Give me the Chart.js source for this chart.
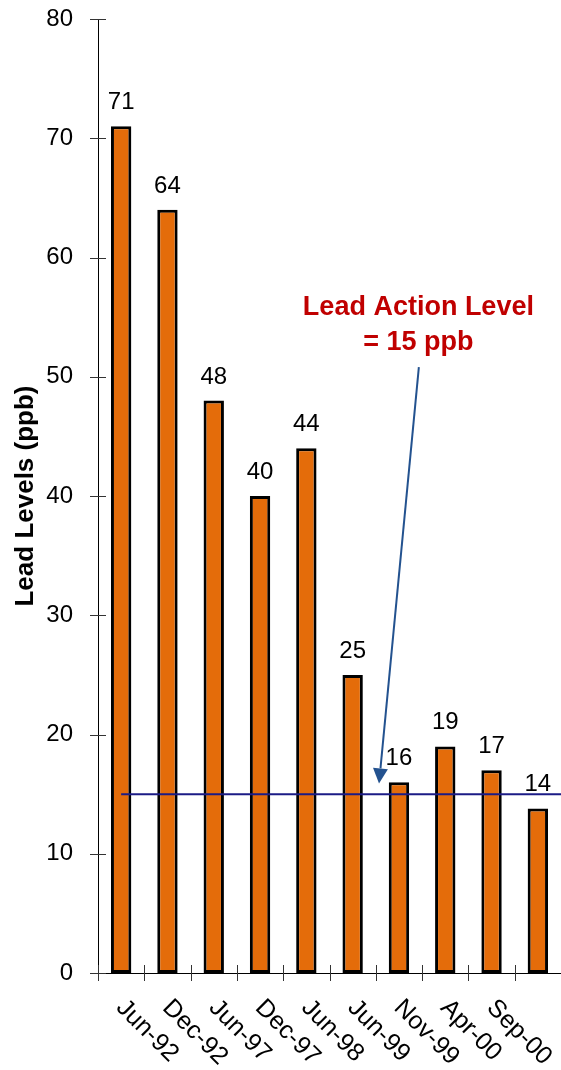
<!DOCTYPE html>
<html>
<head>
<meta charset="utf-8">
<title>Lead Levels</title>
<style>
  html, body { margin: 0; padding: 0; background: #ffffff; }
  #wrap { width: 561px; height: 1070px; position: relative; }
</style>
<script src="https://cdn.jsdelivr.net/npm/chart.js@4.4.0/dist/chart.umd.min.js"></script>
</head>
<body>
<div id="wrap"><canvas id="leadChart" width="561" height="1070"></canvas></div>
<script>
// Sampling rounds and measured lead levels (ppb)
const sampleDates = ['Jun-92', 'Dec-92', 'Jun-97', 'Dec-97', 'Jun-98', 'Jun-99', 'Nov-99', 'Apr-00', 'Sep-00', ''];
const leadPpb = [71, 64, 48, 40, 44, 25, 16, 19, 17, 13.8];
const yTickValues = [0, 10, 20, 30, 40, 50, 60, 70, 80];
const actionLevelPpb = 15;
const noteLines = ['Lead Action Level', '= 15 ppb'];

const FONT = "'Liberation Sans', Arial, Helvetica, sans-serif";
Chart.defaults.font.family = FONT;
Chart.defaults.color = '#000000';

// Tick marks that cross both axes
const crossTicks = {
  id: 'crossTicks',
  afterDraw(chart) {
    const { ctx, scales: { x, y }, chartArea } = chart;
    ctx.save();
    ctx.strokeStyle = '#333333';
    ctx.lineWidth = 1;
    ctx.beginPath();
    y.ticks.forEach((t, i) => {
      const py = Math.round(y.getPixelForTick(i)) + 0.5;
      ctx.moveTo(chartArea.left - 8, py);
      ctx.lineTo(chartArea.left + 8, py);
    });
    for (let i = 0; i <= sampleDates.length; i++) {
      const px = Math.round(x.getPixelForValue(i - 0.5)) + 0.5;
      ctx.moveTo(px, chartArea.bottom - 8);
      ctx.lineTo(px, chartArea.bottom + 8);
    }
    ctx.stroke();
    ctx.restore();
  }
};

// Rotated date labels under the axis
const dateLabels = {
  id: 'dateLabels',
  afterDraw(chart) {
    const { ctx, scales: { x }, chartArea } = chart;
    ctx.save();
    ctx.fillStyle = '#000000';
    ctx.font = '25px ' + FONT;
    ctx.textAlign = 'left';
    ctx.textBaseline = 'middle';
    sampleDates.forEach((d, i) => {
      if (!d) return;
      ctx.save();
      ctx.translate(x.getPixelForValue(i) - 1, chartArea.bottom + 31);
      ctx.rotate(Math.PI / 4);
      ctx.fillText(d, 0, 0);
      ctx.restore();
    });
    ctx.restore();
  }
};

// Value labels above each bar, action level line and its note
const overlay = {
  id: 'overlay',
  afterDatasetsDraw(chart) {
    const { ctx, scales: { x, y }, chartArea } = chart;
    const meta = chart.getDatasetMeta(0);
    ctx.save();

    ctx.fillStyle = '#000000';
    ctx.font = '24px ' + FONT;
    ctx.textAlign = 'center';
    ctx.textBaseline = 'alphabetic';
    meta.data.forEach((bar, i) => {
      ctx.fillText(String(Math.round(leadPpb[i])), bar.x, bar.y - 17);
    });

    // action level line
    const ly = y.getPixelForValue(actionLevelPpb);
    ctx.strokeStyle = '#1b1b86';
    ctx.lineWidth = 2;
    ctx.beginPath();
    ctx.moveTo(x.getPixelForValue(0), ly);
    ctx.lineTo(chartArea.right, ly);
    ctx.stroke();

    // note text
    ctx.fillStyle = '#c00000';
    ctx.font = 'bold 27px ' + FONT;
    ctx.textBaseline = 'middle';
    const nx = x.getPixelForValue(6.42);
    ctx.fillText(noteLines[0], nx, y.getPixelForValue(55.8));
    ctx.fillText(noteLines[1], nx, y.getPixelForValue(52.85));

    // arrow pointing to the line
    const x0 = x.getPixelForValue(6.43), y0 = y.getPixelForValue(50.8);
    const x1 = x.getPixelForValue(5.57), y1 = y.getPixelForValue(15.9);
    const ang = Math.atan2(y1 - y0, x1 - x0);
    const head = 15, half = 7.5;
    const bx = x1 - head * Math.cos(ang), by = y1 - head * Math.sin(ang);
    ctx.strokeStyle = '#23528f';
    ctx.fillStyle = '#23528f';
    ctx.lineWidth = 2;
    ctx.beginPath();
    ctx.moveTo(x0, y0);
    ctx.lineTo(bx, by);
    ctx.stroke();
    ctx.beginPath();
    ctx.moveTo(x1, y1);
    ctx.lineTo(bx + half * Math.sin(ang), by - half * Math.cos(ang));
    ctx.lineTo(bx - half * Math.sin(ang), by + half * Math.cos(ang));
    ctx.closePath();
    ctx.fill();

    ctx.restore();
  }
};

new Chart(document.getElementById('leadChart'), {
  type: 'bar',
  data: {
    labels: sampleDates,
    datasets: [{
      data: leadPpb,
      backgroundColor: '#e46c0a',
      borderColor: '#000000',
      borderWidth: 3,
      borderSkipped: false,
      barPercentage: 0.44,
      categoryPercentage: 1.0
    }]
  },
  options: {
    responsive: false,
    animation: false,
    devicePixelRatio: 1,
    layout: { padding: { top: 0, right: 0, bottom: 0, left: 0 } },
    plugins: { legend: { display: false }, tooltip: { enabled: false } },
    scales: {
      x: {
        grid: { display: false, drawTicks: false },
        border: { display: true, color: '#000000', width: 1 },
        ticks: { display: false },
        afterFit(s) { s.height = 97; }
      },
      y: {
        min: 0,
        max: 80,
        afterBuildTicks(s) { s.ticks = yTickValues.map(v => ({ value: v })); },
        grid: { display: false, drawTicks: false },
        border: { display: true, color: '#000000', width: 1 },
        ticks: { padding: 25, font: { size: 24 }, color: '#000000' },
        title: {
          display: true,
          text: 'Lead Levels (ppb)',
          font: { size: 26, weight: 'bold' },
          color: '#000000',
          padding: { top: 10, bottom: 0 }
        },
        afterFit(s) { s.width = 98; s.paddingTop = 19; }
      }
    }
  },
  plugins: [crossTicks, dateLabels, overlay]
});
</script>
</body>
</html>
